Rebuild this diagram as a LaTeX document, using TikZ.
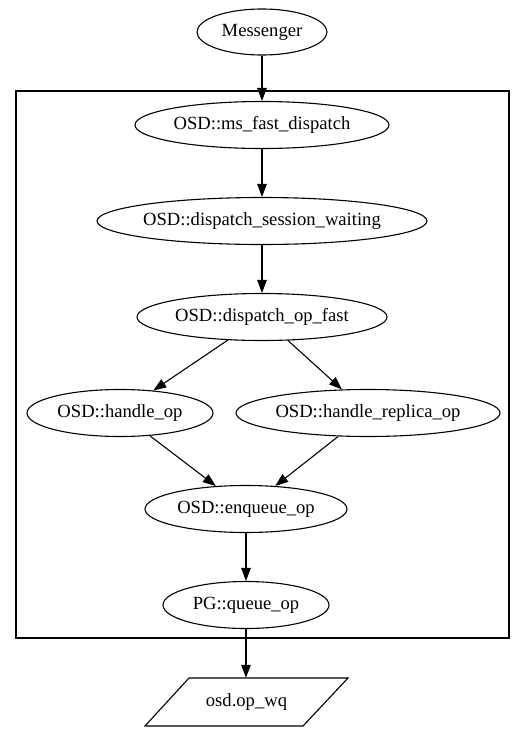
\documentclass[tikz,border=0pt]{standalone}
\usepackage{fontspec}
\setmainfont{Liberation Serif}
\usetikzlibrary{shapes.geometric,arrows.meta}
\begin{document}
\begin{tikzpicture}[x=1pt,y=-1pt,
  every node/.style={font=\fontsize{18.6pt}{22pt}\selectfont},
  fn/.style={draw, ellipse, line width=1.1pt, inner sep=0pt, minimum height=47pt},
  edge/.style={line width=1.1pt, -{Triangle[length=13pt,width=9.5pt]}}]
\useasboundingbox (0,0) rectangle (525,731);
\fill[white] (0,0) rectangle (525,731);
% cluster
\draw[line width=1.1pt] (16,91) rectangle (509,638);
% nodes
\node[fn, minimum width=130pt, minimum height=46pt] (msg) at (262,32) {\makebox[0pt]{Messenger}};
\node[fn, minimum width=254pt] (ms) at (262,125) {\makebox[0pt]{OSD::ms\_fast\_dispatch}};
\node[fn, minimum width=330pt] (dsw) at (262,221) {\makebox[0pt]{OSD::dispatch\_session\_waiting}};
\node[fn, minimum width=250pt] (dof) at (262,317) {\makebox[0pt]{OSD::dispatch\_op\_fast}};
\node[fn, minimum width=186pt] (ho) at (120,413) {\makebox[0pt]{OSD::handle\_op}};
\node[fn, minimum width=264pt] (hro) at (368,413) {\makebox[0pt]{OSD::handle\_replica\_op}};
\node[fn, minimum width=202pt] (eq) at (246,509) {\makebox[0pt]{OSD::enqueue\_op}};
\node[fn, minimum width=166pt] (qo) at (246,605) {\makebox[0pt]{PG::queue\_op}};
\node[inner sep=0pt, minimum width=159pt, minimum height=48pt] (wq) at (246.5,702) {osd.op\_wq};
\draw[line width=1.1pt] (189,678) -- (348,678) -- (303,726) -- (145,726) -- cycle;
% edges
\draw[edge] (msg) -- (ms);
\draw[edge] (ms) -- (dsw);
\draw[edge] (dsw) -- (dof);
\draw[edge] (dof) -- (ho);
\draw[edge] (dof) -- (hro);
\draw[edge] (ho) -- (eq);
\draw[edge] (hro) -- (eq);
\draw[edge] (qo) -- (qo |- wq.north);
\draw[edge] (eq) -- (qo);
\end{tikzpicture}
\end{document}
